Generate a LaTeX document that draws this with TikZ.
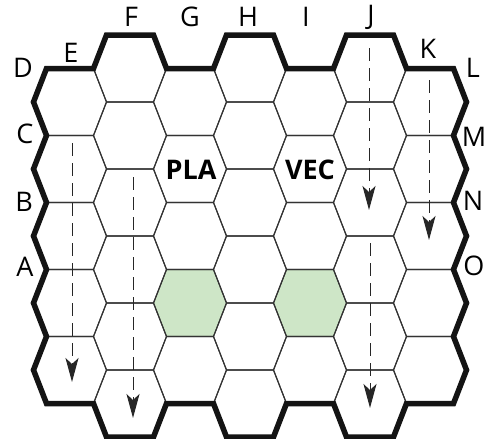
\documentclass[tikz,border=0pt]{standalone}
\usepackage{fontspec}
\setmainfont{Open Sans}
\usetikzlibrary{arrows.meta}
\definecolor{hexgreen}{RGB}{206,230,199}

\tikzset{
  hexa/.pic={\path[pic actions] (-23.5,-33.5) -- (23.5,-33.5) -- (36.5,0) -- (23.5,33.5) -- (-23.5,33.5) -- (-36.5,0) -- cycle;},
  cell/.style={draw=black!80, line width=1.1pt},
  rim/.style={draw=black!92, line width=5.5pt},
  flowarrow/.style={draw=black!85, line width=1pt, dash pattern=on 13pt off 7pt, -{Stealth[length=24pt,width=13pt,inset=6pt]}},
  lab/.style={font=\fontsize{27}{30}\selectfont, inner sep=0pt},
  code/.style={font=\fontsize{27}{30}\selectfont\bfseries, inner sep=0pt}
}

\begin{document}
\begin{tikzpicture}[x=1pt, y=-1pt]
	\useasboundingbox (0,0) rectangle (485,439);
	% Shaded cells:
	\pic[fill=hexgreen] at (190,303) {hexa};
	\pic[fill=hexgreen] at (310,303) {hexa};
	% Grid:
	\foreach \i in {0,2,4,6} \foreach \j in {0,...,4}
		\pic[cell] at ({70+60*\i},{102+67*\j}) {hexa};
	\foreach \i in {1,3,5} \foreach \j in {0,...,5}
		\pic[cell] at ({70+60*\i},{68.5+67*\j}) {hexa};
	% Board edge:
	\draw[rim] (46.5,68.5) -- (33.5,102) -- (46.5,135.5) -- (33.5,169) -- (46.5,202.5) -- (33.5,236) -- (46.5,269.5) -- (33.5,303) -- (46.5,336.5) -- (33.5,370) -- (46.5,403.5)
		-- (93.5,403.5) -- (106.5,437) -- (153.5,437) -- (166.5,403.5) -- (213.5,403.5) -- (226.5,437) -- (273.5,437) -- (286.5,403.5) -- (333.5,403.5) -- (346.5,437) -- (393.5,437) -- (406.5,403.5) -- (453.5,403.5)
		-- (466.5,370) -- (453.5,336.5) -- (466.5,303) -- (453.5,269.5) -- (466.5,236) -- (453.5,202.5) -- (466.5,169) -- (453.5,135.5) -- (466.5,102) -- (453.5,68.5)
		-- (406.5,68.5) -- (393.5,35) -- (346.5,35) -- (333.5,68.5) -- (286.5,68.5) -- (273.5,35) -- (226.5,35) -- (213.5,68.5) -- (166.5,68.5) -- (153.5,35) -- (106.5,35) -- (93.5,68.5) -- cycle;
	% Edge labels:
	\node[lab] (labD) at (23,68) {D};
	\node[lab] (labE) at (71,53) {E};
	\node[lab] (labF) at (131,17) {F};
	\node[lab] (labG) at (190,17) {G};
	\node[lab] (labH) at (248,17) {H};
	\node[lab] (labI) at (306,17) {I};
	\node[lab] (labJ) at (371,17) {J};
	\node[lab] (labK) at (428,49) {K};
	\node[lab] (labL) at (473,68) {L};
	\node[lab] (labC) at (25,134) {C};
	\node[lab] (labB) at (24,202) {B};
	\node[lab] (labA) at (25,267) {A};
	\node[lab] (labM) at (474,137) {M};
	\node[lab] (labN) at (473,201) {N};
	\node[lab] (labO) at (474,266) {O};
	\node[code] (pla) at (191,170) {PLA};
	\node[code] (vec) at (310,170) {VEC};
	% Moves:
	\coordinate (eTop) at (72,143);
	\coordinate (eEnd) at (72,382);
	\coordinate (fTop) at (133,177);
	\coordinate (fEnd) at (133,418);
	\coordinate (jTop) at (369,48);
	\coordinate (jEnd) at (369,210);
	\coordinate (kTop) at (429,80);
	\coordinate (kEnd) at (429,240);
	\coordinate (jjTop) at (370,243);
	\coordinate (jjEnd) at (370,408);
	\draw[flowarrow] (eTop) -- (eEnd);
	\draw[flowarrow] (fTop) -- (fEnd);
	\draw[flowarrow] (jTop) -- (jEnd);
	\draw[flowarrow] (kTop) -- (kEnd);
	\draw[flowarrow] (jjTop) -- (jjEnd);
\end{tikzpicture}
\end{document}
